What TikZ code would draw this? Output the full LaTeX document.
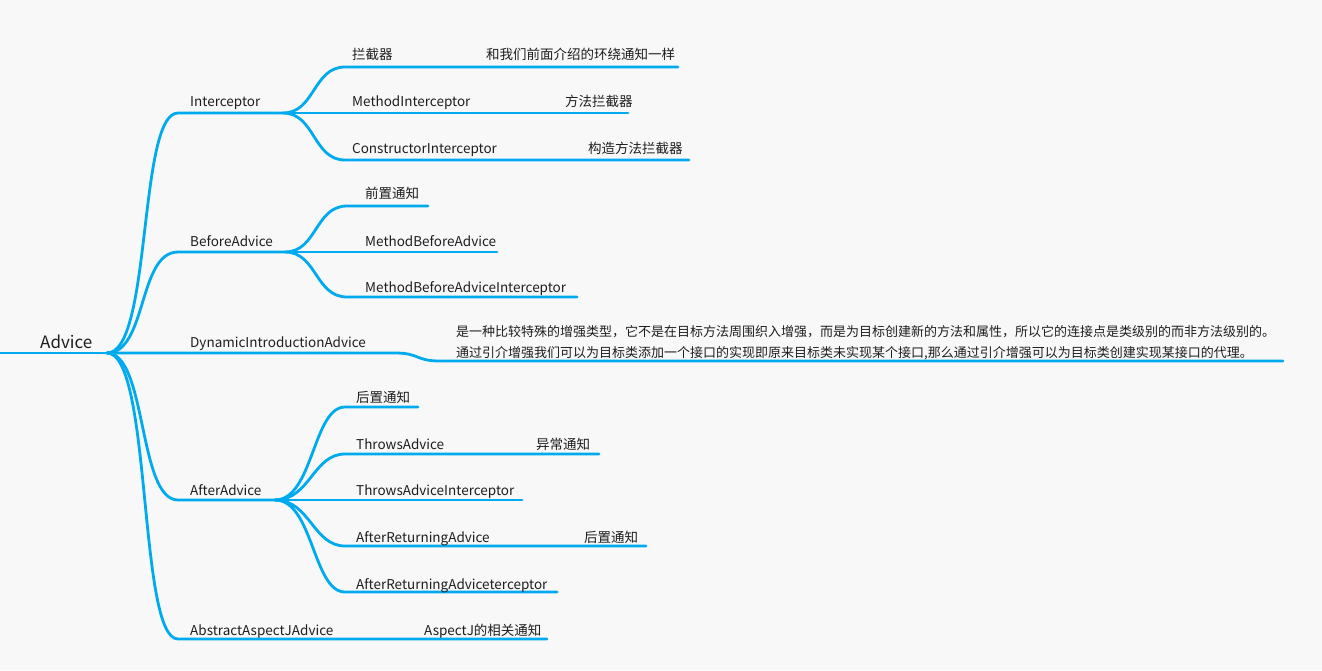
\documentclass[tikz,border=0pt]{standalone}
\usepackage{fontspec}
\setmainfont{Noto Sans CJK SC}
\definecolor{bgc}{RGB}{248,248,248}
\definecolor{linec}{RGB}{0,170,238}
\definecolor{txtc}{RGB}{30,30,30}
\begin{document}
\begin{tikzpicture}[x=1pt,y=-1pt,
  conn/.style={draw=linec,line width=2.8pt,line cap=round},
  lbl/.style={anchor=base west,inner sep=0pt,text=txtc,font=\fontsize{13.5}{15}\selectfont},
  longlbl/.style={lbl,font=\fontsize{13}{15}\selectfont},
  rootlbl/.style={anchor=base west,inner sep=0pt,text=txtc,font=\fontsize{17}{19}\selectfont}]
\useasboundingbox (0,0) rectangle (1322,670);
\fill[bgc] (0,0) rectangle (1322,670);

% root
\coordinate (rootL) at (-2,353);
\coordinate (root) at (107,353);
\node[rootlbl] (advice) at (40,348) {Advice};
\draw[conn,line cap=butt] (rootL) -- (root);

% level 1 coordinates
\coordinate (intS) at (178,113);  \coordinate (intH) at (283,113);
\coordinate (befS) at (178,252);  \coordinate (befH) at (285,252);
\coordinate (dynA) at (395,353);  \coordinate (dynB) at (440,361); \coordinate (dynE) at (1283,361);
\coordinate (aftS) at (178,500);  \coordinate (aftH) at (275,500);
\coordinate (absS) at (178,639);  \coordinate (absE) at (547,639);

\node[lbl] (interceptor) at (190,106) {Interceptor};
\node[lbl] (before) at (190,246) {BeforeAdvice};
\node[lbl] (dynamic) at (190,347) {DynamicIntroductionAdvice};
\node[lbl] (after) at (190,495) {AfterAdvice};
\node[lbl] (abstract) at (190,635) {AbstractAspectJAdvice};
\node[lbl] (abstractN) at (424,635) {AspectJ的相关通知};

\draw[conn] (root) .. controls +(45,0) and +(-40,0) .. (intS) -- (intH);
\draw[conn] (root) .. controls +(40,0) and +(-40,0) .. (befS) -- (befH);
\draw[conn] (root) -- (dynA) .. controls +(25,0) and +(-25,0) .. (dynB) -- (dynE);
\draw[conn] (root) .. controls +(40,0) and +(-40,0) .. (aftS) -- (aftH);
\draw[conn] (root) .. controls +(45,0) and +(-40,0) .. (absS) -- (absE);

\node[longlbl] (dyn1) at (456,336) {是一种比较特殊的增强类型，它不是在目标方法周围织入增强，而是为目标创建新的方法和属性，所以它的连接点是类级别的而非方法级别的。};
\node[longlbl] (dyn2) at (456,357) {通过引介增强我们可以为目标类添加一个接口的实现即原来目标类未实现某个接口,那么通过引介增强可以为目标类创建实现某接口的代理。};

% Interceptor children
\coordinate (i1S) at (345,67);  \coordinate (i1E) at (678,67);
\coordinate (i2E) at (628,113);
\coordinate (i3S) at (345,160); \coordinate (i3E) at (689,160);
\draw[conn] (intH) .. controls +(32,0) and +(-32,0) .. (i1S) -- (i1E);
\draw[conn] (intH) -- (i2E);
\draw[conn] (intH) .. controls +(32,0) and +(-32,0) .. (i3S) -- (i3E);
\node[lbl] (lanjieqi) at (352,59) {拦截器};
\node[lbl] (lanjieqiN) at (486,59) {和我们前面介绍的环绕通知一样};
\node[lbl] (mi) at (352,106) {MethodInterceptor};
\node[lbl] (miN) at (565,106) {方法拦截器};
\node[lbl] (ci) at (352,153) {ConstructorInterceptor};
\node[lbl] (ciN) at (588,153) {构造方法拦截器};

% BeforeAdvice children
\coordinate (b1S) at (347,206); \coordinate (b1E) at (428,206);
\coordinate (b2E) at (497,252);
\coordinate (b3S) at (347,297); \coordinate (b3E) at (577,297);
\draw[conn] (befH) .. controls +(32,0) and +(-32,0) .. (b1S) -- (b1E);
\draw[conn] (befH) -- (b2E);
\draw[conn] (befH) .. controls +(32,0) and +(-32,0) .. (b3S) -- (b3E);
\node[lbl] (qianzhi) at (365,198) {前置通知};
\node[lbl] (mba) at (365,246) {MethodBeforeAdvice};
\node[lbl] (mbai) at (365,292) {MethodBeforeAdviceInterceptor};

% AfterAdvice children
\coordinate (a1S) at (345,407); \coordinate (a1E) at (418,407);
\coordinate (a2S) at (345,454); \coordinate (a2E) at (599,454);
\coordinate (a3E) at (522,500);
\coordinate (a4S) at (345,546); \coordinate (a4E) at (646,546);
\coordinate (a5S) at (345,592); \coordinate (a5E) at (557,592);
\draw[conn] (aftH) .. controls +(38,0) and +(-32,0) .. (a1S) -- (a1E);
\draw[conn] (aftH) .. controls +(35,0) and +(-32,0) .. (a2S) -- (a2E);
\draw[conn] (aftH) -- (a3E);
\draw[conn] (aftH) .. controls +(35,0) and +(-32,0) .. (a4S) -- (a4E);
\draw[conn] (aftH) .. controls +(38,0) and +(-32,0) .. (a5S) -- (a5E);
\node[lbl] (houzhi) at (356,402) {后置通知};
\node[lbl] (ta) at (356,449) {ThrowsAdvice};
\node[lbl] (taN) at (536,449) {异常通知};
\node[lbl] (tai) at (356,495) {ThrowsAdviceInterceptor};
\node[lbl] (ara) at (356,542) {AfterReturningAdvice};
\node[lbl] (araN) at (584,542) {后置通知};
\node[lbl] (arai) at (356,589) {AfterReturningAdviceterceptor};
\end{tikzpicture}
\end{document}
